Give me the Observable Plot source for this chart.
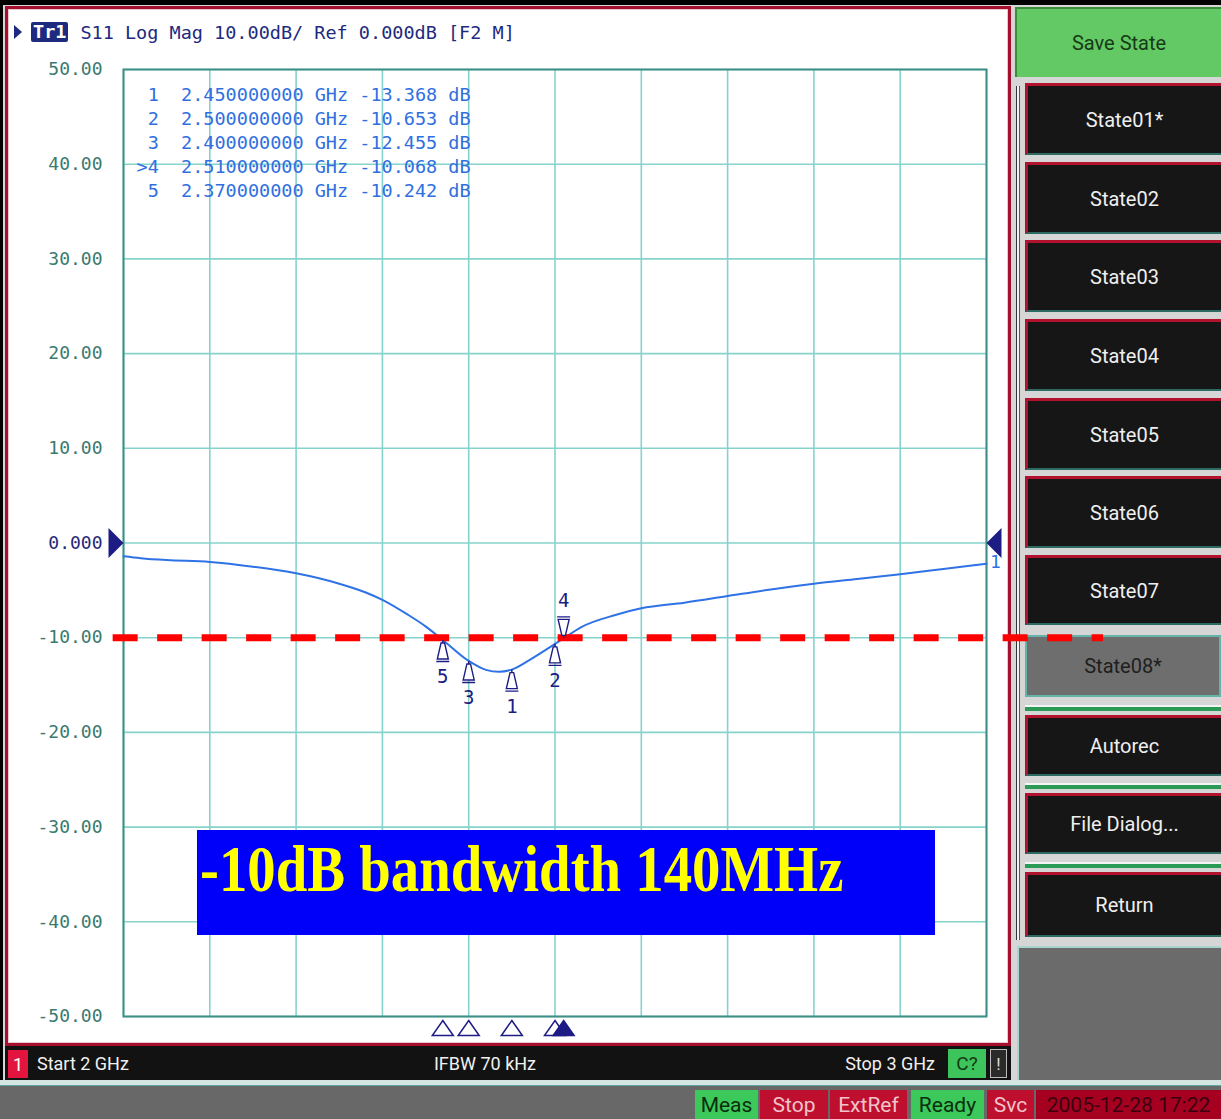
<!DOCTYPE html>
<html><head><meta charset="utf-8">
<script src="https://cdn.jsdelivr.net/npm/d3@7"></script>
<script src="https://cdn.jsdelivr.net/npm/@observablehq/plot@0.6"></script>
<style>
html,body{margin:0;padding:0;background:#000;}
#page{position:relative;width:1221px;height:1119px;background:#d6d6d6;overflow:hidden;font-family:Roboto,"DejaVu Sans",sans-serif;}
.abs{position:absolute;box-sizing:border-box;}
.mono{font-family:"DejaVu Sans Mono",monospace;}
.btn{position:absolute;box-sizing:border-box;left:1025px;width:196px;background:#161616;border-top:3px solid #b3122e;border-left:3px solid #b3122e;border-bottom:2px solid #2d6a62;color:#efefef;font-size:20px;display:flex;align-items:center;justify-content:center;}
.btn.sel{background:#6e6e6e;border:2px solid #63b3a9;color:#1e1e1e;}
.sep{position:absolute;left:1025px;width:196px;height:4px;background:#2a9a55;border-top:2px solid #f4f4f4;box-sizing:content-box;}
.badge{position:absolute;top:1090px;height:29px;box-sizing:border-box;display:flex;align-items:center;justify-content:center;font-size:21px;}
.bar{position:absolute;top:1046px;height:34px;display:flex;align-items:center;color:#f0f0f0;font-size:18px;}
#plot{position:absolute;left:0;top:50px;z-index:3;}
#plot svg{background:transparent;overflow:visible;}
</style></head>
<body><div id="page"></div>
<script>
// ---- data ----
const freqGHz = [2.00, 2.02, 2.05, 2.10, 2.15, 2.20, 2.25, 2.28, 2.30, 2.33, 2.35, 2.37, 2.40, 2.42, 2.435, 2.45, 2.475, 2.50, 2.51, 2.53, 2.57, 2.60, 2.65, 2.70, 2.75, 2.80, 2.85, 2.90, 2.95, 3.00];
const s11dB   = [-1.4, -1.6, -1.8, -2.0, -2.5, -3.2, -4.3, -5.2, -6.0, -7.6, -8.8, -10.242, -12.455, -13.4, -13.6, -13.368, -12.1, -10.653, -10.068, -8.9, -7.6, -6.9, -6.3, -5.6, -4.9, -4.3, -3.8, -3.3, -2.75, -2.2];
const markerIds   = [1, 2, 3, 4, 5];
const markerFreq  = [2.45, 2.50, 2.40, 2.51, 2.37];
const markerDb    = [-13.368, -10.653, -12.455, -10.068, -10.242];
const activeMarker = 4;
const yTicks = [50, 40, 30, 20, 10, 0, -10, -20, -30, -40, -50];
const xGrid  = [2.0, 2.1, 2.2, 2.3, 2.4, 2.5, 2.6, 2.7, 2.8, 2.9, 3.0];
const refLevel = 0;
const thresholdDb = -10;
const thresholdSpanGHz = [1.988, 3.1356];
const traceNo = 1;
const titleTag = "Tr1";
const titleText = "S11 Log Mag 10.00dB/ Ref 0.000dB [F2 M]";
const annotation = "-10dB bandwidth 140MHz";
const softkeys = ["State01*", "State02", "State03", "State04", "State05", "State06", "State07", "State08*", "Autorec", "File Dialog...", "Return"];
const saveKey = "Save State";
const statusLeft = "Start 2 GHz", statusMid = "IFBW 70 kHz", statusRight = "Stop 3 GHz";
const badges = ["Meas", "Stop", "ExtRef", "Ready", "Svc", "2005-12-28 17:22"];

// ---- static instrument frame (HTML) ----
const page = document.getElementById("page");
function el(cls, style, text, parent = page) {
  const d = document.createElement("div");
  d.className = cls; d.style.cssText = style;
  if (text != null) d.textContent = text;
  parent.appendChild(d); return d;
}
el("abs", "left:0;top:0;width:1221px;height:5px;background:#000;z-index:1");
el("abs", "left:0;top:0;width:3px;height:1119px;background:#000;z-index:1");
el("abs", "left:5px;top:6px;width:1006px;height:1040px;background:#fff;border:3px solid #a50f2d;box-shadow:inset 0 0 0 1px #e8c8cf;z-index:1");
// title
const tl = el("abs mono", "left:14px;top:20px;height:24px;display:flex;align-items:center;font-size:18.5px;color:#1d2a7e;z-index:2;white-space:pre");
el("", "width:0;height:0;border-top:7px solid transparent;border-bottom:7px solid transparent;border-left:8px solid #1d2a7e;margin-right:9px", null, tl);
el("", "background:#1d2a7e;color:#fff;padding:0 2px;border-radius:2px;line-height:20px;font-weight:bold", titleTag, tl);
el("", "margin-left:12px", titleText, tl);

// right panel
el("abs", `left:1015px;top:7px;width:206px;height:70px;background:#63c964;border-top:2px solid #3b8d3b;border-left:2px solid #3b8d3b;color:#173a17;font-size:20px;display:flex;align-items:center;justify-content:center;z-index:2`, saveKey);
el("abs", "left:1016px;top:86px;width:4px;height:854px;background:#f2f2f2;border-left:1px solid #333;border-right:1px solid #555;z-index:2");
const keyLayout = [[83,72],[162,72],[240,72],[319,72],[398,72],[476,72],[555,70],[635,62],[715,61],[793,61],[872,65]];
softkeys.forEach((k, i) => {
  const [t, h] = keyLayout[i];
  el("btn" + (k === "State08*" ? " sel" : ""), `top:${t}px;height:${h}px;z-index:2`, k);
});
[705, 783, 862].forEach(t => el("sep", `top:${t}px;z-index:2`));
el("abs", "left:1017px;top:946px;width:204px;height:134px;background:#6b6b6b;border-top:2px solid #a8d6cf;border-left:2px solid #a8d6cf;z-index:2");

// bottom bars
el("abs", "left:5px;top:1046px;width:1006px;height:34px;background:#121212;z-index:2");
el("abs", "left:8px;top:1050px;width:20px;height:28px;background:#e3143e;color:#fff;font-size:18px;display:flex;align-items:center;justify-content:center;z-index:3", String(traceNo));
el("bar", "left:37px;z-index:3", statusLeft);
el("bar", "left:385px;width:200px;justify-content:center;z-index:3", statusMid);
el("bar", "left:735px;width:200px;justify-content:flex-end;z-index:3", statusRight);
el("abs", "left:948px;top:1049px;width:38px;height:29px;background:#3dc45c;color:#123a14;font-size:19px;display:flex;align-items:center;justify-content:center;z-index:3", "C?");
el("abs", "left:990px;top:1049px;width:17px;height:29px;background:#2a2a2a;border:1px solid #bbb;color:#ddd;font-size:17px;display:flex;align-items:center;justify-content:center;z-index:3", "!");
el("abs", "left:0;top:1080px;width:1221px;height:6px;background:#d3e6e2;border-bottom:1px solid #5fa79e;z-index:2");
el("abs", "left:0;top:1086px;width:1221px;height:33px;background:#686868;z-index:2");
const badgeLayout = [[695,63,"#3cc85a","#0b2e0d"],[760,68,"#bf0f2f","#f0c3cb"],[830,77,"#bf0f2f","#f0c3cb"],[911,73,"#3cc85a","#0b2e0d"],[987,47,"#bf0f2f","#f0c3cb"],[1036,185,"#a5001f","#3a0010"]];
badges.forEach((b, i) => {
  const [l, w, bg, c] = badgeLayout[i];
  el("badge", `left:${l}px;width:${w}px;background:${bg};color:${c};z-index:3`, b);
});

// annotation box
const box = el("abs", "left:197px;top:830px;width:738px;height:105px;background:#0000fa;z-index:4;overflow:hidden");
el("abs", "left:3px;top:6px;font-family:'Liberation Serif','Times New Roman',serif;font-weight:bold;font-size:66px;line-height:1;color:#ffff00;white-space:nowrap;transform:scaleX(0.86);transform-origin:left top", annotation, box);

// ---- chart (Observable Plot) ----
const navy = "#1c1c84", traceBlue = "#2f72e6", gridC = "#86d3cb";
const trace = freqGHz.map((f, i) => ({f, db: s11dB[i]}));
const markers = markerIds.map((id, i) => ({id, f: markerFreq[i], db: markerDb[i]}));
const fmt = d => d === 0 ? "0.000" : d.toFixed(2);
const nb = s => s.replace(/ /g, "\u00a0");
const tableText = markers.map(m => nb((m.id === activeMarker ? ">" : " ") + m.id + "  " + m.f.toFixed(9) + " GHz " + m.db.toFixed(3) + " dB")).join("\n");

const symBelow = {draw(c) { c.moveTo(0, 0); c.lineTo(0, 3); c.moveTo(-1.8, 3); c.lineTo(1.8, 3); c.lineTo(5.5, 19); c.lineTo(-5.5, 19); c.closePath(); c.moveTo(-6.5, 21.5); c.lineTo(6.5, 21.5); }};
const symAbove = {draw(c) { c.moveTo(0, 0); c.lineTo(0, -3); c.moveTo(-1.8, -3); c.lineTo(1.8, -3); c.lineTo(5.5, -19); c.lineTo(-5.5, -19); c.closePath(); c.moveTo(-6.5, -21.5); c.lineTo(6.5, -21.5); }};
const symAxis  = {draw(c) { c.moveTo(0, 4); c.lineTo(10.5, 19); c.lineTo(-10.5, 19); c.closePath(); }};
const symRefL  = {draw(c) { c.moveTo(-15, -15); c.lineTo(0, 0); c.lineTo(-15, 15); c.closePath(); }};
const symRefR  = {draw(c) { c.moveTo(15, -15); c.lineTo(0, 0); c.lineTo(15, 15); c.closePath(); }};

const passive = markers.filter(m => m.id !== activeMarker);
const active = markers.filter(m => m.id === activeMarker);

const chart = Plot.plot({
  width: 1110, height: 996,
  marginLeft: 123, marginRight: 124, marginTop: 19, marginBottom: 30,
  x: {domain: [2, 3], axis: null},
  y: {domain: [-50, 50], axis: null},
  style: {background: "transparent", overflow: "visible", fontFamily: "DejaVu Sans Mono, monospace"},
  marks: [
    Plot.ruleX(xGrid, {stroke: gridC, strokeWidth: 1.6}),
    Plot.ruleY(yTicks, {stroke: gridC, strokeWidth: 1.6}),
    Plot.frame({stroke: "#3f8f86", strokeWidth: 2}),
    Plot.text(yTicks.filter(d => d !== refLevel), {y: d => d, frameAnchor: "left", dx: -21, textAnchor: "end", text: fmt, fill: "#3b7a6e", fontSize: 18}),
    Plot.text([refLevel], {y: d => d, frameAnchor: "left", dx: -21, textAnchor: "end", text: fmt, fill: "#26287a", fontSize: 18}),
    Plot.text([tableText], {frameAnchor: "top-left", dx: 13, dy: 14, lineAnchor: "top", lineHeight: 1.3, text: d => d, fill: "#2f6fe0", fontSize: 18.5}),
    Plot.line(trace, {x: "f", y: "db", stroke: traceBlue, strokeWidth: 2, curve: "monotone-x"}),
    Plot.ruleY([thresholdDb], {x1: thresholdSpanGHz[0], x2: thresholdSpanGHz[1], stroke: "#ff0000", strokeWidth: 7, strokeDasharray: "25,19.5"}),
    Plot.dot(passive, {x: "f", y: "db", symbol: symBelow, r: 5, fill: "#fff", stroke: navy, strokeWidth: 1.4}),
    Plot.text(passive, {x: "f", y: "db", dy: 37, text: d => String(d.id), fill: navy, fontSize: 19}),
    Plot.dot(active, {x: "f", y: "db", symbol: symAbove, r: 5, fill: "#fff", stroke: navy, strokeWidth: 1.4}),
    Plot.text(active, {x: "f", y: "db", dy: -37, text: d => String(d.id), fill: navy, fontSize: 19}),
    Plot.dot(passive, {x: "f", frameAnchor: "bottom", symbol: symAxis, r: 5, fill: "#fff", stroke: navy, strokeWidth: 1.5}),
    Plot.dot(active, {x: "f", frameAnchor: "bottom", symbol: symAxis, r: 5, fill: navy, stroke: navy, strokeWidth: 1.5}),
    Plot.dot([refLevel], {x: d => 2, y: d => d, symbol: symRefL, r: 5, fill: navy}),
    Plot.dot([refLevel], {x: d => 3, y: d => d, symbol: symRefR, r: 5, fill: navy}),
    Plot.text([traceNo], {x: d => 3, y: d => refLevel, dx: 9, dy: 19, text: d => String(d), fill: traceBlue, fontSize: 18})
  ]
});
const holder = el("", "", null);
holder.id = "plot";
holder.appendChild(chart);
</script>
</body></html>
